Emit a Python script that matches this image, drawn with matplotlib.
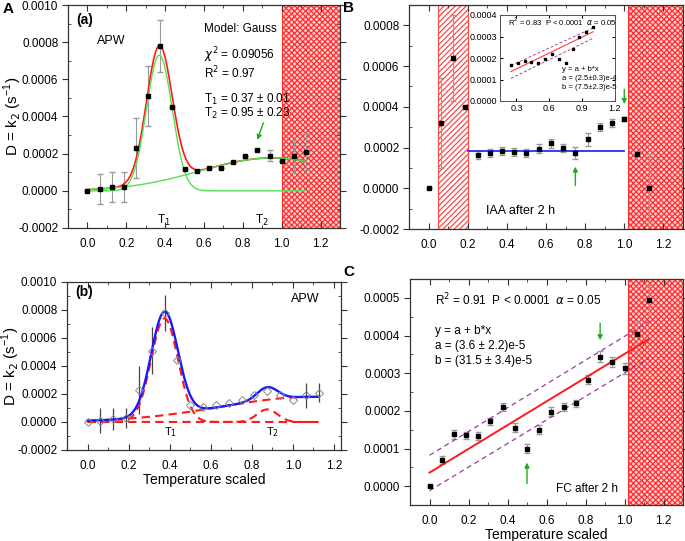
import numpy as np
import matplotlib
matplotlib.use("Agg")
import matplotlib.pyplot as plt
from matplotlib.ticker import MultipleLocator, FormatStrFormatter

plt.rcParams['font.family'] = ['Liberation Sans', 'DejaVu Sans']
plt.rcParams['hatch.linewidth'] = 0.9

# ---------------- data ----------------
temp = [0.0, 0.0625, 0.125, 0.1875, 0.25, 0.3125, 0.375, 0.4375, 0.5, 0.5625,
        0.625, 0.6875, 0.75, 0.8125, 0.875, 0.9375, 1.0, 1.0625, 1.125]

# Panel A (a)
a_vals = [0.0, 0.00001, 0.00002, 0.00002, 0.00023, 0.00051, 0.00078, 0.00045, 0.000115, 0.000108,
          0.000122, 0.000125, 0.000155, 0.000188, 0.00022, 0.00019, 0.000158, 0.000185, 0.00021]
a_err = [0, 0.00008, 0.00008, 0.00008, 0.00016, 0.00016, 0.00014, 0, 0, 0,
         0, 0, 0, 0, 0, 0.00003, 0, 0.00009, 0.0001]
a_gauss_centers = [0.37, 0.95]
a_gauss_amps = [0.00073, 0.000177]
a_gauss_sigmas = [0.066, 0.37]

# Panel (b)
b_vals = [0.0, 0.00001, 0.00002, 0.00003, 0.00023, 0.00051, 0.00078, 0.00044, 0.00012, 0.000105,
          0.000125, 0.000135, 0.000155, 0.00019, 0.00022, 0.00019, 0.00016, 0.00019, 0.00021]
b_err = [0, 0.00009, 0.00008, 0.00007, 0.00017, 0.00017, 0.00013, 0, 0, 0,
         0, 0, 0, 0, 0, 0, 0, 0.00009, 0.00007]
b_gauss_centers = [0.375, 0.875, 1.1]
b_gauss_amps = [0.00074, 0.00009, 0.00018]
b_gauss_sigmas = [0.065, 0.05, 0.45]

# Panel B (IAA)
iaa_vals = [0.0, 0.00032, 0.00064, 0.0004, 0.000165, 0.000175, 0.000185, 0.00018, 0.000175, 0.000195,
            0.00022, 0.000197, 0.000175, 0.00024, 0.0003, 0.00032, 0.000342, 0.00017, 0.0]
iaa_err = [0, 0.00022, 0.00021, 0, 0.00002, 0.00002, 0.00002, 0.00002, 0.00002, 0.00002,
           0.00002, 0.00002, 0.00003, 0.00003, 0.00002, 0.00002, 0.00001, 0, 0.00017]
iaa_plateau = 0.000185
inset_x = temp[4:17]
inset_y = [0.000168, 0.000178, 0.000186, 0.00018, 0.000175, 0.000195, 0.00022, 0.000197,
           0.000177, 0.00024, 0.0003, 0.00032, 0.000342]
inset_fit_x = [0.25, 1.0]
inset_fit_y = [0.000137, 0.000322]
inset_upper_y = [0.000165, 0.00034]
inset_lower_y = [0.000105, 0.000292]

# Panel C (FC)
fc_vals = [0.0, 0.00007, 0.000138, 0.000135, 0.000133, 0.000172, 0.00021, 0.000155, 0.0001, 0.00015,
           0.000198, 0.00021, 0.00022, 0.000282, 0.000344, 0.00033, 0.000313, 0.000405, 0.000495]
fc_err = [0, 0.00001, 0.000012, 0.00001, 0.00001, 0.00001, 0.00001, 0.000012, 0.000012, 0.000012,
          0.000012, 0.00001, 0.00001, 0.000012, 0.000014, 0.000014, 0.000015, 0.00003, 0.00004]
fc_a = 3.6e-5
fc_b = 31.5e-5
fc_fit_x = [0.0, 1.125]
fc_upper_y = [0.000082, 0.000437]
fc_lower_y = [-0.000012, 0.00034]


def gauss(x, c, a, s):
    return a * np.exp(-(x - c) ** 2 / (2 * s ** 2))


fig = plt.figure(figsize=(6.85, 5.41), dpi=100)
W, H = 685.0, 541.0
FS = 8.5


def ax_at(l, r, t, b):
    return fig.add_axes([l / W, 1 - b / H, (r - l) / W, (b - t) / H])


def style(ax, ymaj, ymin, yfmt='%.4f'):
    ax.xaxis.set_major_locator(MultipleLocator(0.2))
    ax.xaxis.set_minor_locator(MultipleLocator(0.1))
    ax.yaxis.set_major_locator(MultipleLocator(ymaj))
    ax.yaxis.set_minor_locator(MultipleLocator(ymin))
    ax.xaxis.set_major_formatter(FormatStrFormatter('%.1f'))
    ax.yaxis.set_major_formatter(FormatStrFormatter(yfmt))
    ax.tick_params(which='both', top=True, right=True, labelsize=FS, color='#333333')
    ax.tick_params(axis='x', which='both', direction='in')
    ax.tick_params(axis='y', which='major', direction='out', length=4, pad=3)
    ax.tick_params(axis='y', which='minor', direction='in', length=2.5)
    ax.tick_params(axis='x', which='major', length=4, pad=7)
    ax.tick_params(axis='x', which='minor', length=2.5)
    for sp in ax.spines.values():
        sp.set_color('#333333')
        sp.set_linewidth(0.9)


def checker(ax, x0, x1):
    ax.axvspan(x0, x1, facecolor='#ffd0d0', edgecolor='#ff3030', hatch='xxxxxx', lw=0.8, zorder=0)


xs = np.linspace(0, 1.125, 400)
green = '#22aa22'
ylab = 'D = k$_2$ (s$^{\\mathregular{-1}}$)'

# ---------------- Panel A ----------------
axA = ax_at(68, 340, 5, 228)
axA.set_xlim(-0.1, 1.3)
axA.set_ylim(-0.0002, 0.0010)
style(axA, 0.0002, 0.0001)
checker(axA, 1.0, 1.3)
g1 = gauss(xs, a_gauss_centers[0], a_gauss_amps[0], a_gauss_sigmas[0])
g2 = gauss(xs, a_gauss_centers[1], a_gauss_amps[1], a_gauss_sigmas[1])
axA.errorbar(temp, a_vals, yerr=a_err, fmt='none', ecolor='#9a9a9a', elinewidth=0.8, capsize=2.5, zorder=2)
axA.plot(xs, g1 + g2, color='#ff1a1a', lw=1.2, zorder=3)
axA.plot(xs, g1, color='#55e055', lw=1.0, zorder=3)
axA.plot(xs, g2, color='#55e055', lw=1.0, zorder=3)
axA.plot(temp, a_vals, 's', color='black', ms=3.5, zorder=4)
axA.set_ylabel(ylab, fontsize=11)
axA.yaxis.set_label_coords(-0.163, 0.5)
axA.text(-0.06, 0.00092, '(a)', fontsize=10, fontweight='bold', va='center')
axA.text(0.05, 0.000805, 'APW', fontsize=9, va='center')
axA.text(0.6, 0.00087, 'Model: Gauss', fontsize=FS, va='center')
axA.text(0.6, 0.000728, r'$\chi^2$ = 0.09056', fontsize=FS, va='center')
axA.text(0.6, 0.000635, r'R$^2$ = 0.97', fontsize=FS, va='center')
axA.text(0.6, 0.00049, r'T$_1$ = 0.37 ± 0.01', fontsize=FS, va='center')
axA.text(0.6, 0.000415, r'T$_2$ = 0.95 ± 0.23', fontsize=FS, va='center')
axA.text(0.36, -0.00016, r'T$_1$', fontsize=FS, va='center')
axA.text(0.86, -0.00016, r'T$_2$', fontsize=FS, va='center')
axA.annotate('', xy=(0.87, 0.00026), xytext=(0.91, 0.00038),
             arrowprops=dict(arrowstyle='-|>', color=green, lw=1.0, mutation_scale=7))
fig.text(3 / W, 1 - 9 / H, 'A', fontsize=11, fontweight='bold', va='center')

# ---------------- Panel (b) ----------------
axb = ax_at(67, 341, 282, 450)
axb.set_xlim(-0.1, 1.234)
axb.set_ylim(-0.0002, 0.0010)
style(axb, 0.0002, 0.0001)
comps = [gauss(xs, c, a, s) for c, a, s in zip(b_gauss_centers, b_gauss_amps, b_gauss_sigmas)]
axb.errorbar(temp, b_vals, yerr=b_err, fmt='none', ecolor='#444444', elinewidth=0.9, capsize=0, zorder=2)
for cpt in comps:
    axb.plot(xs, cpt, color='#ff1a1a', lw=1.5, ls=(0, (4, 2.5)), zorder=3)
axb.plot(xs, np.sum(comps, axis=0), color='#1a1aff', lw=1.7, zorder=4)
axb.plot(temp, b_vals, 'D', mfc='none', mec='#888888', ms=4, mew=0.7, zorder=5)
axb.set_ylabel(ylab, fontsize=11)
axb.yaxis.set_label_coords(-0.163, 0.5)
axb.set_xlabel('Temperature scaled', fontsize=10)
axb.xaxis.set_label_coords(0.5, -0.135)
axb.text(-0.06, 0.00093, '(b)', fontsize=10, fontweight='bold', va='center')
axb.text(0.99, 0.00088, 'APW', fontsize=9, va='center')
axb.text(0.37, -0.00007, r'T$_1$', fontsize=8, va='center')
axb.text(0.87, -0.00007, r'T$_2$', fontsize=8, va='center')

# ---------------- Panel B ----------------
axB = ax_at(409, 683, 5, 229)
axB.set_xlim(-0.1, 1.3)
axB.set_ylim(-0.0002, 0.0009)
style(axB, 0.0002, 0.0001)
axB.axvspan(0.05, 0.2, facecolor='white', edgecolor='#ff4848', hatch='//////', lw=0.8, zorder=0)
checker(axB, 1.02, 1.3)
axB.errorbar(temp, iaa_vals, yerr=iaa_err, fmt='none', ecolor='#9a9a9a', elinewidth=0.8, capsize=2.5, zorder=2)
axB.plot([0.2, 1.0], [iaa_plateau, iaa_plateau], color='#2a2aff', lw=1.3, zorder=3)
axB.plot(temp, iaa_vals, 's', color='black', ms=2.2, zorder=4)
axB.text(0.295, -0.00011, 'IAA after 2 h', fontsize=9, va='center')
axB.annotate('', xy=(0.75, 0.00012), xytext=(0.75, 0.0),
             arrowprops=dict(arrowstyle='-|>', color=green, lw=1.0, mutation_scale=7))
axB.annotate('', xy=(1.0, 0.0004), xytext=(1.0, 0.0005),
             arrowprops=dict(arrowstyle='-|>', color=green, lw=1.0, mutation_scale=7))
fig.text(343 / W, 1 - 8 / H, 'B', fontsize=11, fontweight='bold', va='center')

# inset
axI = ax_at(500, 615, 15, 101)
axI.set_xlim(0.15, 1.2)
axI.set_ylim(0.0, 0.0004)
axI.xaxis.set_major_locator(MultipleLocator(0.3))
axI.yaxis.set_major_locator(MultipleLocator(0.0001))
axI.xaxis.set_major_formatter(FormatStrFormatter('%.1f'))
axI.yaxis.set_major_formatter(FormatStrFormatter('%.4f'))
axI.tick_params(which='both', top=True, right=True, direction='in', labelsize=6.5, length=2, pad=2)
for sp in axI.spines.values():
    sp.set_color('#555555')
    sp.set_linewidth(0.7)
axI.plot(inset_fit_x, inset_fit_y, color='#ff4040', lw=0.8)
axI.plot(inset_fit_x, inset_upper_y, color='#9a4aa0', lw=0.7, ls=(0, (3, 2)))
axI.plot(inset_fit_x, inset_lower_y, color='#9a4aa0', lw=0.7, ls=(0, (3, 2)))
axI.plot(inset_x, inset_y, 's', color='black', ms=1.5)
axI.text(0.22, 0.00037, r'R$^2$ = 0.83  P < 0.0001  $\alpha$ = 0.05', fontsize=5.5, va='center')
axI.text(0.72, 0.000145, 'y = a + b*x', fontsize=5.5, va='center')
axI.text(0.72, 0.000105, 'a = (2.5±0.3)e-4', fontsize=5.5, va='center')
axI.text(0.72, 0.000065, 'b = (7.5±2.3)e-5', fontsize=5.5, va='center')

# ---------------- Panel C ----------------
axC = ax_at(410, 683, 279, 505)
axC.set_xlim(-0.1, 1.3)
axC.set_ylim(-0.00005, 0.00055)
style(axC, 0.0001, 0.00005)
checker(axC, 1.02, 1.3)
fx = np.array(fc_fit_x)
axC.errorbar(temp, fc_vals, yerr=fc_err, fmt='none', ecolor='#9a9a9a', elinewidth=0.8, capsize=2.5, zorder=2)
axC.plot(fx, fc_a + fc_b * fx, color='#ff1a1a', lw=1.4, zorder=3)
axC.plot(fx, fc_upper_y, color='#9a3aa0', lw=0.9, ls=(0, (4, 3)), zorder=3)
axC.plot(fx, fc_lower_y, color='#9a3aa0', lw=0.9, ls=(0, (4, 3)), zorder=3)
axC.plot(temp, fc_vals, 's', color='black', ms=2.2, zorder=4)
axC.set_xlabel('Temperature scaled', fontsize=10)
axC.xaxis.set_label_coords(0.5, -0.1)
axC.text(0.03, 0.000495, r'R$^2$ = 0.91  P < 0.0001  $\alpha$ = 0.05', fontsize=FS, va='center')
axC.text(0.03, 0.000412, 'y = a + b*x', fontsize=FS, va='center')
axC.text(0.03, 0.000372, 'a = (3.6 ± 2.2)e-5', fontsize=FS, va='center')
axC.text(0.03, 0.000332, 'b = (31.5 ± 3.4)e-5', fontsize=FS, va='center')
axC.text(0.65, -0.000008, 'FC after 2 h', fontsize=FS, va='center')
axC.annotate('', xy=(0.5, 0.00007), xytext=(0.5, 0.0),
             arrowprops=dict(arrowstyle='-|>', color=green, lw=1.0, mutation_scale=7))
axC.annotate('', xy=(0.875, 0.00038), xytext=(0.875, 0.00044),
             arrowprops=dict(arrowstyle='-|>', color=green, lw=1.0, mutation_scale=7))
fig.text(343 / W, 1 - 272 / H, 'C', fontsize=11, fontweight='bold', va='center')

fig.savefig('out.png', dpi=100)
